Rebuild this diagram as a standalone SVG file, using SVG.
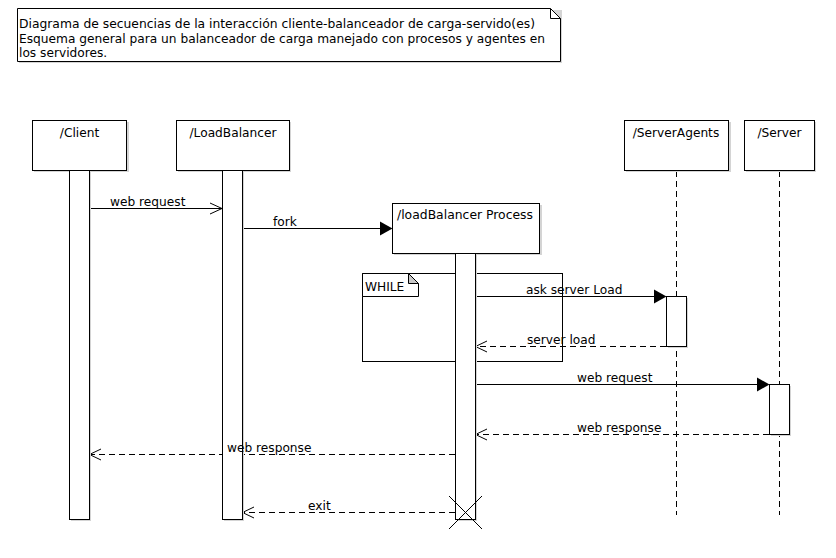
<svg xmlns="http://www.w3.org/2000/svg" width="836" height="558" viewBox="0 0 836 558">
<style>
text{font-family:"DejaVu Sans","Liberation Sans",sans-serif;font-size:12.2px;fill:#000}
.box{fill:#fff;stroke:#000;stroke-width:1}
.sh{fill:#d4d4d4}
.life{stroke:#000;stroke-width:1;stroke-dasharray:6,4;fill:none}
.msg{stroke:#000;stroke-width:1;fill:none}
.ret{stroke:#000;stroke-width:1;stroke-dasharray:6,4;fill:none}
.fill{fill:#000;stroke:none}
</style>
<rect width="836" height="558" fill="#fff"/>
<g id="note">
<path class="sh" d="M19,10 H562 V63 H19 Z"/>
<path class="box" d="M17.5,8.5 H550.5 L560.5,18.5 V61.5 H17.5 Z"/>
<path class="msg" d="M550.5,8.5 V18.5 H560.5"/>
<text x="19" y="28" textLength="516" lengthAdjust="spacingAndGlyphs">Diagrama de secuencias de la interacción cliente-balanceador de carga-servido(es)</text>
<text x="19" y="42.5" textLength="526" lengthAdjust="spacingAndGlyphs">Esquema general para un balanceador de carga manejado con procesos y agentes en</text>
<text x="19" y="56.5">los servidores.</text>
</g>
<g id="lifelines">
<line class="life" x1="676.5" y1="171" x2="676.5" y2="515"/>
<line class="life" x1="779.5" y1="171" x2="779.5" y2="515"/>
</g>
<g id="while-frame">
<rect class="box" x="362.5" y="273.5" width="200" height="88"/>
<path class="box" d="M362.5,273.5 H408.5 L418.5,283.5 V296.5 H362.5 Z"/>
<path d="M408.5,273.5 L418.5,283.5 H408.5 Z" fill="#c8c8c8" stroke="#000" stroke-width="1"/>
<text x="365" y="290.5">WHILE</text>
</g>
<g id="connectors">
<line class="msg" x1="89" y1="208.5" x2="222" y2="208.5"/>
<polyline class="msg" points="210,203 222,208.5 210,214"/>
<line class="msg" x1="242" y1="228.5" x2="381" y2="228.5"/>
<polygon class="fill" points="380,221.5 392.5,228.5 380,235.5"/>
<line class="msg" x1="475" y1="296.5" x2="655" y2="296.5"/>
<polygon class="fill" points="654,289.5 666.5,296.5 654,303.5"/>
<line class="ret" x1="666" y1="346.5" x2="476" y2="346.5"/>
<polyline class="msg" points="487,341 475.5,346.5 487,352"/>
<line class="msg" x1="475" y1="384.5" x2="758" y2="384.5"/>
<polygon class="fill" points="757,377.5 769.5,384.5 757,391.5"/>
<line class="ret" x1="769" y1="434.5" x2="476" y2="434.5"/>
<polyline class="msg" points="487,429 475.5,434.5 487,440"/>
<line class="ret" x1="455" y1="454.5" x2="90" y2="454.5"/>
<polyline class="msg" points="101,449 89.5,454.5 101,460"/>
<line class="ret" x1="455" y1="512.5" x2="243" y2="512.5"/>
<polyline class="msg" points="254,507 242.5,512.5 254,518"/>
</g>
<g id="client">
<rect class="sh" x="34" y="122" width="95" height="50"/>
<rect class="box" x="32.5" y="120.5" width="94" height="50"/>
<rect class="sh" x="71" y="172" width="20" height="349"/>
<rect class="box" x="69.5" y="170.5" width="20" height="349"/>
<text x="79.5" y="136.5" text-anchor="middle">/Client</text>
</g>
<g id="loadbalancer">
<rect class="sh" x="178" y="122" width="113" height="50"/>
<rect class="box" x="176.5" y="120.5" width="113" height="50"/>
<rect class="sh" x="224" y="172" width="20" height="349"/>
<rect class="box" x="222.5" y="170.5" width="20" height="349"/>
<text x="233" y="136.5" text-anchor="middle">/LoadBalancer</text>
</g>
<g id="process">
<rect class="sh" x="394" y="205" width="148" height="50"/>
<rect class="box" x="392.5" y="203.5" width="147" height="50"/>
<rect class="sh" x="457" y="255" width="20" height="266"/>
<rect class="box" x="455.5" y="253.5" width="20" height="266"/>
<text x="397" y="218.5" textLength="136" lengthAdjust="spacingAndGlyphs">/loadBalancer Process</text>
<path class="msg" d="M449,496 L482,529 M482,496 L449,529"/>
</g>
<g id="serveragents">
<rect class="sh" x="626" y="122" width="105" height="50"/>
<rect class="box" x="624.5" y="120.5" width="104" height="50"/>
<rect class="sh" x="668" y="298" width="20" height="50"/>
<rect class="box" x="666.5" y="296.5" width="20" height="50"/>
<text x="676" y="136.5" text-anchor="middle">/ServerAgents</text>
</g>
<g id="server">
<rect class="sh" x="746" y="122" width="70" height="50"/>
<rect class="box" x="744.5" y="120.5" width="70" height="50"/>
<rect class="sh" x="771" y="386" width="20" height="50"/>
<rect class="box" x="769.5" y="384.5" width="20" height="50"/>
<text x="779.5" y="136.5" text-anchor="middle">/Server</text>
</g>
<g id="connector-labels">
<text x="110" y="205.5">web request</text>
<text x="273" y="225.5">fork</text>
<text x="526" y="293.5">ask server Load</text>
<text x="527" y="343.5">server load</text>
<text x="577" y="381.5">web request</text>
<text x="577" y="431.5">web response</text>
<text x="227" y="452">web response</text>
<text x="308" y="509.5">exit</text>
</g>
</svg>
